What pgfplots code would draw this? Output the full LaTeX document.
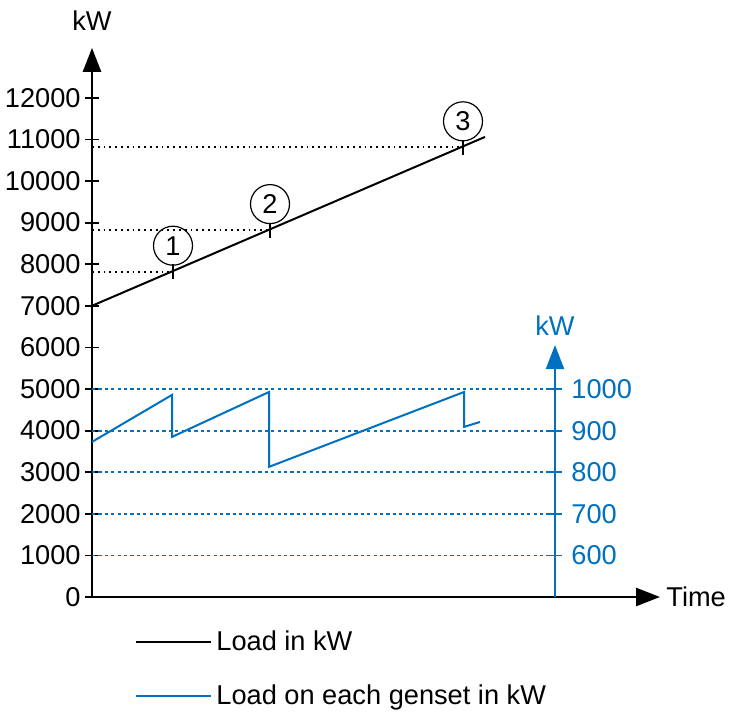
\documentclass[border=0pt]{standalone}
\usepackage{pgfplots}
\pgfplotsset{compat=1.18}
\usetikzlibrary{arrows.meta}
\usepackage{fontspec}
\setmainfont{Liberation Sans}
\definecolor{sblue}{HTML}{0070C0}
\begin{document}
\fontsize{13.6}{16.3}\selectfont
\begin{tikzpicture}
\begin{axis}[
  scale only axis, width=284pt, height=274.56pt,
  xmin=0, xmax=568, ymin=0, ymax=13200,
  axis lines=left,
  axis line style={line width=1.3pt, -{Triangle[width=9pt,length=12pt]}},
  xtick=\empty,
  ytick={0,1000,...,12000},
  tick align=center, major tick length=7pt,
  tick style={line width=0.9pt, black},
  scaled y ticks=false,
  yticklabel style={xshift=2.5pt, /pgf/number format/set thousands separator={}, /pgf/number format/assume math mode=true},
  xlabel={Time},
  every axis x label/.style={at={(axis description cs:1,0)}, anchor=west, xshift=0pt, inner sep=3pt},
  ylabel={kW},
  every axis y label/.style={at={(axis description cs:0,1)}, anchor=south, yshift=4pt},
  legend style={at={(axis description cs:0.0757,-0.053)}, anchor=north west, draw=none, fill=none, row sep=11pt, inner sep=0pt, cells={anchor=west}},
  legend image code/.code={\draw[#1] (0pt,0pt) -- (37.5pt,0pt);},
]
\addplot[black, line width=1pt] coordinates {(0,7000) (393,11060)};
\addlegendentry{Load in kW}
\addlegendimage{sblue, line width=1pt}
\addlegendentry{Load on each genset in kW}
\addplot[black, line width=0.9pt, dotted, forget plot] coordinates {(0,7820) (81,7820)};
\addplot[black, line width=0.9pt, dotted, forget plot] coordinates {(0,8820) (178,8820)};
\addplot[black, line width=0.9pt, dotted, forget plot] coordinates {(0,10810) (371,10810)};
\addplot[only marks, mark=|, mark size=3.75pt, mark options={line width=0.8pt, black}, forget plot,
  point meta=explicit symbolic, nodes near coords,
  every node near coord/.append style={anchor=center, yshift=13pt, circle, draw, line width=0.6pt, minimum size=19.5pt, inner sep=0pt, font=\fontsize{13.6}{16.3}\selectfont}]
  coordinates {(81,7820)[1] (178,8820)[2] (371,10810)[3]};
\end{axis}
\begin{axis}[
  scale only axis, width=231.5pt, height=126pt,
  xmin=0, xmax=463, ymin=500, ymax=1106,
  axis x line=none, axis y line=right,
  axis line style={sblue, line width=1pt, -{Triangle[width=9pt,length=12pt]}},
  ytick={600,700,800,900,1000},
  tick align=center, major tick length=7pt,
  tick style={sblue, line width=0.9pt},
  yticklabel style={text=sblue, /pgf/number format/set thousands separator={}, /pgf/number format/assume math mode=true},
  ymajorgrids,
  grid style={sblue, line width=0.9pt, dash pattern=on 1.6pt off 1.6pt},
  ylabel={kW},
  every axis y label/.style={at={(axis description cs:1,1)}, anchor=south, yshift=0pt, text=sblue},
]
\addplot[sblue, line width=1pt] coordinates {(0,873) (80,986) (80,885) (177,993) (177,813) (372,993) (372,909) (388,921)};
\end{axis}
\pgfresetboundingbox
\useasboundingbox (-46pt,-58pt) rectangle (320pt,298.5pt);
\end{tikzpicture}
\end{document}
